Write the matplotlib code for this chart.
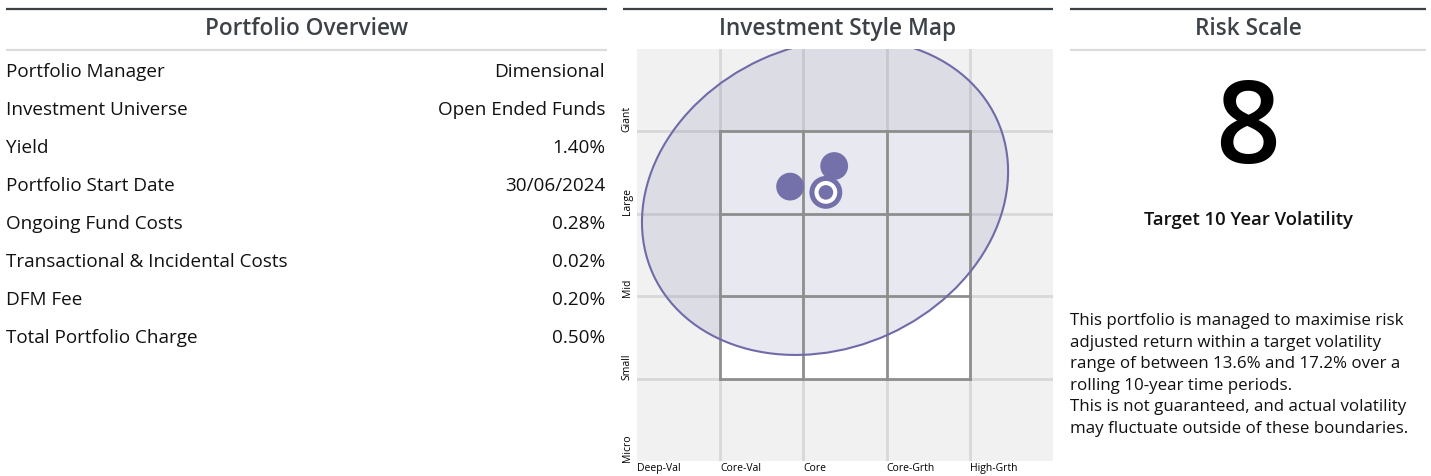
import matplotlib
matplotlib.use('Agg')
import matplotlib.pyplot as plt
from matplotlib.patches import Ellipse, Rectangle

plt.rcParams['font.family'] = ['Open Sans', 'DejaVu Sans']

# --- data ---
overview_labels = ['Portfolio Manager', 'Investment Universe', 'Yield', 'Portfolio Start Date',
                   'Ongoing Fund Costs', 'Transactional & Incidental Costs', 'DFM Fee',
                   'Total Portfolio Charge']
overview_values = ['Dimensional', 'Open Ended Funds', '1.40%', '30/06/2024',
                   '0.28%', '0.02%', '0.20%', '0.50%']

style_cols = ['Deep-Val', 'Core-Val', 'Core', 'Core-Grth', 'High-Grth']
style_rows = ['Micro', 'Small', 'Mid', 'Large', 'Giant']
holding_x = [1.84, 2.37]
holding_y = [3.33, 3.58]
portfolio_x = 2.27
portfolio_y = 3.26
# spread of holdings (centre x, centre y, width, height, angle)
spread = [2.26, 3.205, 4.54, 3.67, 24.7]

risk_level = 8
vol_low, vol_high = 13.6, 17.2

DARK = '#3a3f44'
TITLE = '#3c4248'
LIGHT = '#dcdcdc'
PURPLE = '#7471aa'

fig = plt.figure(figsize=(14.31, 4.77), dpi=100)
ax0 = fig.add_axes([0, 0, 1, 1])
ax0.set_xlim(0, 1431)
ax0.set_ylim(477, 0)
ax0.axis('off')

def header(x0, x1, title, sub=True):
    ax0.plot([x0, x1], [10, 10], color=DARK, lw=1.6, solid_capstyle='butt')
    if sub:
        ax0.plot([x0, x1], [51, 51], color=LIGHT, lw=1.6, solid_capstyle='butt')
    ax0.text((x0 + x1) / 2, 29, title, ha='center', va='center', fontsize=16.3,
             fontweight='semibold', color=TITLE)

# left panel
header(6, 607, 'Portfolio Overview')
for i in range(len(overview_labels)):
    y = 72 + i * 38
    ax0.text(6, y, overview_labels[i], ha='left', va='center', fontsize=13.6, color='#111111')
    ax0.text(605, y, overview_values[i], ha='right', va='center', fontsize=13.6, color='#111111')

# middle panel
header(623, 1053, 'Investment Style Map', sub=False)
ax = fig.add_axes([637 / 1431, 15 / 477, 416 / 1431, 412 / 477])
ax.set_xlim(0, 5)
ax.set_ylim(0, 5)
ax.set_facecolor('#f1f1f1')
for s in ax.spines.values():
    s.set_visible(False)
for k in range(1, 5):
    ax.axvline(k, color='#d8d8d8', lw=2, zorder=1)
    ax.axhline(k, color='#d8d8d8', lw=2, zorder=1)
ax.add_patch(Rectangle((1, 1), 3, 3, facecolor='white', edgecolor='none', zorder=2))
ax.add_patch(Ellipse((spread[0], spread[1]), spread[2], spread[3], angle=spread[4],
                     facecolor=PURPLE, alpha=0.16, edgecolor='none', zorder=3))
for k in range(1, 5):
    ax.plot([k, k], [1, 4], color='#8e8e8e', lw=2, zorder=4, solid_capstyle='projecting')
    ax.plot([1, 4], [k, k], color='#8e8e8e', lw=2, zorder=4, solid_capstyle='projecting')
ax.add_patch(Ellipse((spread[0], spread[1]), spread[2], spread[3], angle=spread[4],
                     facecolor='none', edgecolor='#6f6ba8', lw=1.5, zorder=5))
ax.scatter(holding_x, holding_y, s=400, color=PURPLE, edgecolor='none', zorder=6)
ax.scatter([portfolio_x], [portfolio_y], s=560, color=PURPLE, edgecolor='none', zorder=6)
ax.scatter([portfolio_x], [portfolio_y], s=270, color='white', edgecolor='none', zorder=7)
ax.scatter([portfolio_x], [portfolio_y], s=110, color=PURPLE, edgecolor='none', zorder=8)
ax.set_xticks(range(5))
ax.set_xticklabels(style_cols, ha='left', fontsize=7.5)
ax.set_yticks(range(5))
ax.set_yticklabels(style_rows, rotation=90, va='bottom', fontsize=7.5)
ax.tick_params(axis='y', length=0, pad=3)
ax.tick_params(axis='x', length=0, pad=1)

# right panel
header(1070, 1426, 'Risk Scale')
ax0.text(1248, 163, str(risk_level), ha='center', va='baseline', fontsize=82,
         fontweight='semibold', color='black')
ax0.text(1248, 220, 'Target 10 Year Volatility', ha='center', va='center', fontsize=13.3,
         fontweight='semibold', color='#111111')
para = ['This portfolio is managed to maximise risk',
        'adjusted return within a target volatility',
        'range of between %.1f%% and %.1f%% over a' % (vol_low, vol_high),
        'rolling 10-year time periods.',
        'This is not guaranteed, and actual volatility',
        'may fluctuate outside of these boundaries.']
for i, line in enumerate(para):
    ax0.text(1070, 321 + i * 21.6, line, ha='left', va='center', fontsize=12.2, color='#111111')

fig.savefig('out.png', dpi=100)
